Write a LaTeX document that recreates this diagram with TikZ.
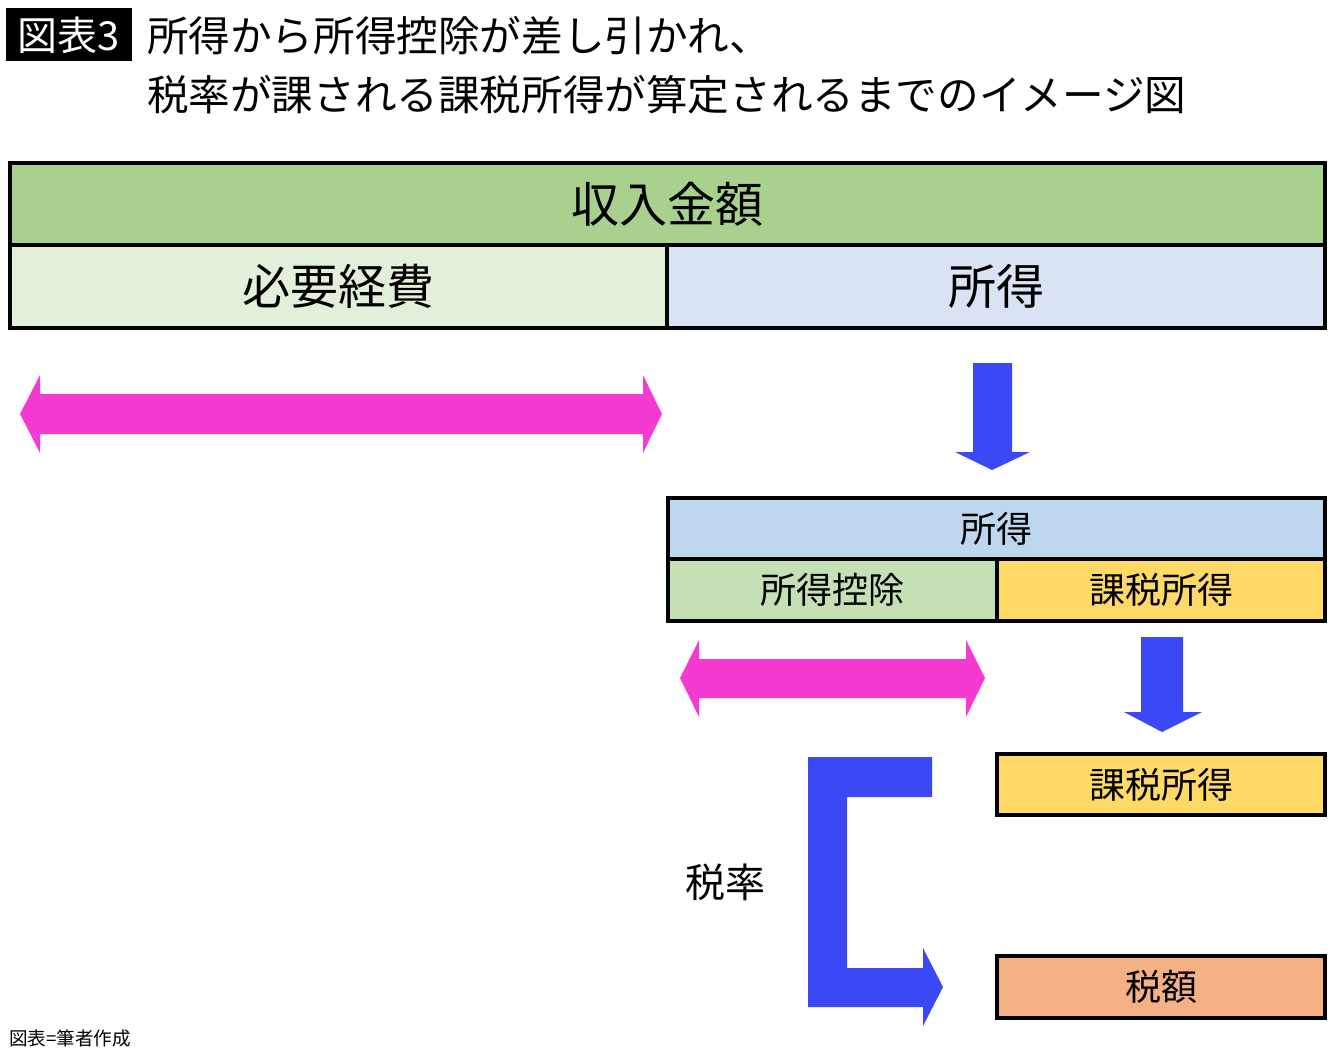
\documentclass[tikz,border=0pt]{standalone}
\usepackage{fontspec}
\setmainfont{Noto Sans CJK JP}
\usepackage{tikz}
\usetikzlibrary{positioning}
\definecolor{incgreen}{HTML}{A9D18E}
\definecolor{costgreen}{HTML}{E2F0D9}
\definecolor{netblue}{HTML}{DAE3F3}
\definecolor{netblue2}{HTML}{BDD7EE}
\definecolor{dedgreen}{HTML}{C5E0B4}
\definecolor{taxyellow}{HTML}{FFD966}
\definecolor{taxorange}{HTML}{F4B183}
\definecolor{arrowpink}{RGB}{245,58,212}
\definecolor{arrowblue}{RGB}{58,72,245}

\begin{document}
\begin{tikzpicture}[x=0.5pt, y=-0.5pt,
  box/.style={draw, line width=2pt, inner sep=0pt, outer sep=0pt, anchor=north west},
  bigtext/.style={font=\fontsize{24}{28}\selectfont},
  smalltext/.style={font=\fontsize{18}{22}\selectfont}]
\useasboundingbox (0,0) rectangle (1340,1051);

\fill (6,8) rectangle (132,61);
\node[text=white, font=\fontsize{20}{24}\selectfont] (tag) at (69,35) {図表3};
\node[anchor=west, font=\fontsize{20.8}{25}\selectfont] (title1) at (140,36) {所得から所得控除が差し引かれ、};
\node[anchor=west, font=\fontsize{20.8}{25}\selectfont] (title2) at (140,95) {税率が課される課税所得が算定されるまでのイメージ図};

\node[box, bigtext, fill=incgreen, minimum width=657.5pt, minimum height=41pt] (income) at (10,163) {収入金額};
\node[box, bigtext, fill=costgreen, minimum width=328.5pt, minimum height=41.5pt] (cost) at (income.south west) {必要経費};
\node[box, bigtext, fill=netblue, minimum width=329pt, minimum height=41.5pt] (net) at (cost.north east) {所得};

\fill[arrowpink] (20,414) -- (40,375) -- (40,394) -- (643,394) -- (643,375) -- (662,414)
  -- (643,453) -- (643,434) -- (40,434) -- (40,453) -- cycle;
\fill[arrowblue] (973,363) -- (1012,363) -- (1012,452) -- (1030,452) -- (992,470)
  -- (955,452) -- (973,452) -- cycle;

\node[box, smalltext, fill=netblue2, minimum width=328.5pt, minimum height=30.5pt] (net2) at (668,498) {所得};
\node[box, smalltext, fill=dedgreen, minimum width=164.5pt, minimum height=31pt] (deduct) at (net2.south west) {所得控除};
\node[box, smalltext, fill=taxyellow, minimum width=164pt, minimum height=31pt] (taxable) at (deduct.north east) {課税所得};

\fill[arrowpink] (680,678) -- (699,640) -- (699,659) -- (966,659) -- (966,640) -- (985,678)
  -- (966,717) -- (966,698) -- (699,698) -- (699,717) -- cycle;
\fill[arrowblue] (1141,637) -- (1183,637) -- (1183,712) -- (1202,712) -- (1162,732)
  -- (1124,712) -- (1141,712) -- cycle;

\node[box, smalltext, fill=taxyellow, minimum width=164pt, minimum height=30.5pt] (taxable2) at (997,754) {課税所得};
\node[box, smalltext, fill=taxorange, minimum width=164pt, minimum height=31pt] (tax) at (997,956) {税額};
\node[font=\fontsize{20}{24}\selectfont] (rate) at (725,882) {税率};

\fill[arrowblue] (808,757) -- (932,757) -- (932,797) -- (847,797) -- (847,968) -- (923,968)
  -- (923,948) -- (943,987) -- (923,1026) -- (923,1007) -- (808,1007) -- cycle;

\node[anchor=west, font=\fontsize{9.3}{11}\selectfont] (source) at (2,1038) {図表=筆者作成};
\end{tikzpicture}
\end{document}
